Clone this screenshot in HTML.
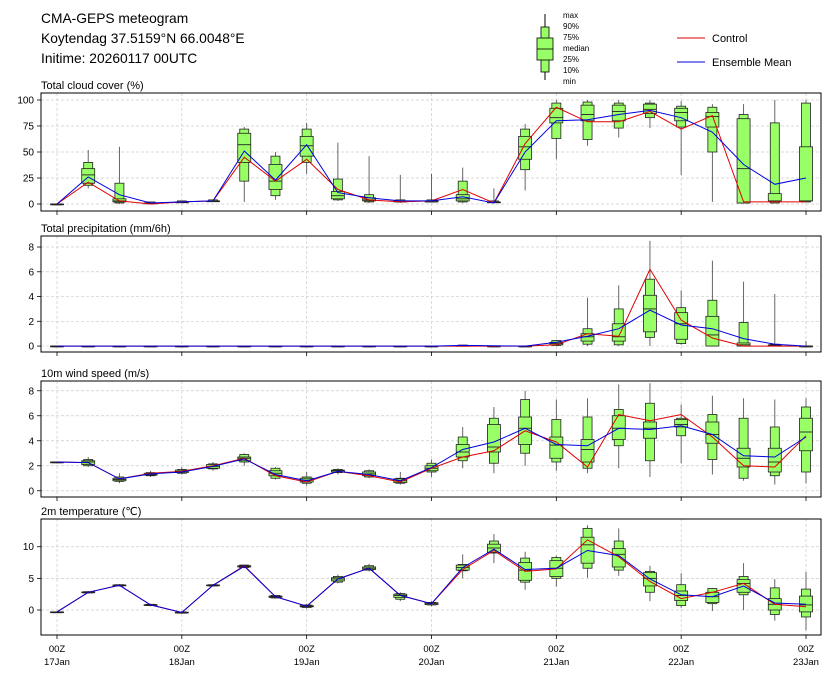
<!DOCTYPE html>
<html><head><meta charset="utf-8">
<style>
body{margin:0;background:#fff;}
svg{display:block;font-family:"Liberation Sans","DejaVu Sans",sans-serif;}
</style></head>
<body>
<svg id="chart" width="831" height="678" viewBox="0 0 831 678">
<g>
<text x="41" y="23" font-size="13.8" fill="#000">CMA-GEPS meteogram</text>
<text x="41" y="43" font-size="13.8" fill="#000">Koytendag 37.5159°N 66.0048°E</text>
<text x="41" y="63" font-size="13.8" fill="#000">Initime: 20260117 00UTC</text>
</g>
<g>
<line x1="545" y1="14" x2="545" y2="80" stroke="#000" stroke-width="1"/>
<rect x="541" y="27" width="8" height="45" fill="#99ff66" stroke="#000" stroke-width="0.8"/>
<rect x="537" y="38" width="16" height="22" fill="#99ff66" stroke="#000" stroke-width="0.8"/>
<line x1="537" y1="49" x2="553" y2="49" stroke="#000" stroke-width="0.8"/>
<g font-size="8" fill="#000">
<text x="563" y="18">max</text><text x="563" y="29">90%</text><text x="563" y="40">75%</text>
<text x="563" y="51">median</text><text x="563" y="62">25%</text><text x="563" y="73">10%</text><text x="563" y="84">min</text>
</g>
</g>
<g>
<line x1="677" y1="38" x2="705" y2="38" stroke="#e00000" stroke-width="1"/>
<text x="712" y="42" font-size="11">Control</text>
<line x1="677" y1="62" x2="705" y2="62" stroke="#0000e0" stroke-width="1"/>
<text x="712" y="66" font-size="11">Ensemble Mean</text>
</g>
<g id="panels"></g>
</svg>
<script>
const steps = [0,6,12,18,24,30,36,42,48,54,60,66,72,78,84,90,96,102,108,114,120,126,132,138,144];
const dayTickHours = [0,24,48,72,96,120,144];
const dayTickLabels = ["17Jan","18Jan","19Jan","20Jan","21Jan","22Jan","23Jan"];

const cloudMin = [0,15,0,1,2,3,2,4,29,3,1,1,2,1,2,13,43,56,64,73,28,2,1,1,2];
const cloudP10 = [0,18,1,1,2,3,22,8,40,4,2,2,2,2,2,33,63,62,73,83,74,50,1,1,2];
const cloudP25 = [0,20,2,1,2,3,40,14,46,5,3,2,2,3,2,43,78,80,80,87,80,74,1,3,3];
const cloudMed = [0,28,3,1,2,3,57,22,56,8,4,3,3,5,2,55,83,86,89,91,88,84,34,3,3];
const cloudP75 = [0,34,5,1,2,3,68,38,65,12,6,3,3,9,2,65,92,95,95,96,92,88,82,10,55];
const cloudP90 = [0,40,20,2,3,4,72,46,72,24,9,4,4,22,3,72,97,98,97,97,94,93,86,78,97];
const cloudMax = [0,52,55,2,3,4,74,50,78,59,46,28,29,35,15,77,100,100,100,100,99,96,96,100,100];
const cloudCtrl = [0,21,3,0,2,3,45,22,43,14,4,2,3,14,1,58,93,79,79,89,72,85,2,2,2];
const cloudMean = [0,26,9,1,2,3,51,23,57,11,6,3,3,7,1,50,80,81,86,90,83,69,38,19,25];

const precMin = [0,0,0,0,0,0,0,0,0,0,0,0,0,0,0,0,0,0,0,0,0.1,0,0,0,0];
const precP10 = [0,0,0,0,0,0,0,0,0,0,0,0,0,0,0,0,0.05,0.15,0.1,0.7,0.2,0,0,0,0];
const precP25 = [0,0,0,0,0,0,0,0,0,0,0,0,0,0,0,0,0.1,0.4,0.4,1.15,0.55,0,0,0,0];
const precMed = [0,0,0,0,0,0,0,0,0,0,0,0,0,0.02,0,0,0.2,0.75,0.75,3.0,1.8,0.9,0.1,0.05,0];
const precP75 = [0,0,0,0,0,0,0,0,0,0,0,0,0,0.05,0,0,0.3,1.0,1.8,4.1,2.7,2.4,0.25,0.1,0];
const precP90 = [0,0,0,0,0,0,0,0,0,0,0,0,0,0.08,0,0,0.45,1.4,3.0,5.4,3.1,3.7,1.9,0.15,0];
const precMax = [0,0,0,0,0,0,0,0,0,0,0,0,0,0.1,0.02,0,0.5,3.9,4.9,8.5,4.5,6.9,5.2,4.2,0.4];
const precCtrl = [0,0,0,0,0,0,0,0,0,0,0,0,0,0,0,0,0.1,1.0,0.8,6.2,2.1,0.65,0,0,0];
const precMean = [0,0,0,0,0,0,0,0,0,0,0,0,0,0.05,0.02,0,0.3,0.8,1.4,2.9,1.7,1.4,0.6,0.15,0];

const windMin = [2.3,1.9,0.6,1.1,1.3,1.6,2.0,0.9,0.4,1.3,1.0,0.5,1.1,1.8,1.4,2.0,1.6,1.4,1.8,1.1,2.2,1.3,0.8,0.5,0.6];
const windP10 = [2.3,2.0,0.75,1.2,1.4,1.75,2.3,1.0,0.6,1.45,1.1,0.6,1.5,2.4,2.2,3.0,2.3,1.8,3.6,2.4,4.4,2.5,1.0,1.2,1.5];
const windP25 = [2.3,2.1,0.8,1.25,1.45,1.8,2.4,1.2,0.7,1.5,1.2,0.65,1.6,2.7,3.1,3.7,2.6,2.3,4.1,4.2,5.1,3.8,1.9,1.5,3.2];
const windMed = [2.3,2.3,0.9,1.3,1.55,1.95,2.6,1.4,0.85,1.6,1.35,0.8,1.8,3.1,3.5,5.0,3.65,3.3,5.0,5.0,5.3,4.5,2.6,2.3,4.7];
const windP75 = [2.3,2.4,1.0,1.4,1.65,2.1,2.7,1.6,1.0,1.65,1.5,0.95,2.0,3.7,5.3,5.9,4.3,4.1,6.0,5.5,5.7,5.5,3.4,3.4,5.8];
const windP90 = [2.3,2.5,1.1,1.45,1.7,2.15,2.9,1.8,1.1,1.7,1.6,1.0,2.2,4.3,5.8,7.3,5.7,5.9,6.5,7.0,5.8,6.1,5.8,5.1,6.7];
const windMax = [2.3,2.7,1.4,1.6,1.9,2.3,3.0,1.9,1.5,1.8,1.7,1.5,2.5,5.1,6.7,8.0,7.3,7.4,8.5,8.6,6.9,7.6,7.4,7.3,7.4];
const windCtrl = [2.3,2.25,0.95,1.4,1.55,2.0,2.6,1.2,0.7,1.55,1.2,0.7,1.8,2.7,3.2,4.8,3.9,1.9,6.1,5.6,6.1,4.3,2.0,1.9,4.4];
const windMean = [2.3,2.25,0.95,1.35,1.5,1.95,2.55,1.3,0.8,1.55,1.3,0.8,1.85,3.3,3.9,5.0,3.7,3.6,5.0,4.9,5.2,4.5,2.8,2.7,4.3];

const tempMin = [-0.3,2.6,3.7,0.6,-0.6,3.7,6.6,1.8,0.2,4.2,6.1,1.4,0.6,5.0,7.4,3.2,3.7,5.1,5.4,1.4,0.3,-0.15,0,-1.7,-3.2];
const tempP10 = [-0.3,2.7,3.8,0.7,-0.5,3.8,6.7,1.9,0.4,4.4,6.3,1.7,0.8,6.2,9.0,4.4,5.0,6.6,6.3,2.8,0.7,1.0,2.4,-0.7,-1.1];
const tempP25 = [-0.3,2.75,3.85,0.75,-0.45,3.85,6.8,2.0,0.5,4.6,6.4,2.0,0.85,6.3,9.1,4.7,5.3,7.4,6.8,3.8,1.5,1.2,2.8,0,-0.3];
const tempMed = [-0.3,2.8,3.9,0.8,-0.4,3.9,6.9,2.1,0.6,4.9,6.6,2.3,1.0,6.7,9.8,6.3,6.6,10.3,8.8,5.0,2.3,2.1,4.2,0.9,0.8];
const tempP75 = [-0.3,2.85,3.95,0.85,-0.35,3.95,7.0,2.2,0.7,5.1,6.8,2.5,1.15,7.1,10.4,7.5,7.8,11.5,9.7,5.9,3.0,2.8,4.8,1.8,2.2];
const tempP90 = [-0.3,2.9,4.0,0.9,-0.3,4.0,7.1,2.3,0.8,5.3,7.0,2.6,1.2,7.2,10.9,8.2,8.3,12.9,10.9,6.1,4.0,3.4,5.3,3.5,3.3];
const tempMax = [-0.3,3.0,4.1,1.0,-0.2,4.1,7.2,2.4,1.0,5.6,7.3,2.8,1.4,8.8,12.0,9.2,8.6,13.4,12.9,7.0,5.8,3.5,7.4,4.9,6.0];
const tempCtrl = [-0.3,2.8,3.9,0.8,-0.4,3.9,7.0,2.1,0.6,4.9,6.6,2.3,1.0,6.4,9.4,6.1,6.5,11.1,8.4,4.5,1.8,2.8,4.2,0.9,0.5];
const tempMean = [-0.3,2.8,3.9,0.8,-0.4,3.9,6.9,2.1,0.6,4.9,6.6,2.3,1.0,6.7,9.6,6.4,6.6,9.4,8.6,4.9,2.4,2.1,3.8,1.1,0.9];

const cloudTicks = [0,25,50,75,100];
const precTicks = [0,2,4,6,8];
const windTicks = [0,2,4,6,8];
const tempTicks = [0,5,10];

const NS = "http://www.w3.org/2000/svg";
const root = document.getElementById("panels");
const X0 = 41, X1 = 821;
function xScale(h){ return 57 + (h/144)*749; }
function mk(tag, attrs, parent){
  const e = document.createElementNS(NS, tag);
  for (const k in attrs) e.setAttribute(k, attrs[k]);
  parent.appendChild(e);
  return e;
}

const panels = [
  {key:"cloud", title:"Total cloud cover (%)", top:93, bot:211, ymin:-6.7, ymax:106.7, ticks:cloudTicks,
   s:[cloudMin,cloudP10,cloudP25,cloudMed,cloudP75,cloudP90,cloudMax], ctrl:cloudCtrl, mean:cloudMean},
  {key:"precip", title:"Total precipitation (mm/6h)", top:236, bot:352, ymin:-0.48, ymax:8.89, ticks:precTicks,
   s:[precMin,precP10,precP25,precMed,precP75,precP90,precMax], ctrl:precCtrl, mean:precMean},
  {key:"wind", title:"10m wind speed (m/s)", top:381, bot:497, ymin:-0.5, ymax:8.78, ticks:windTicks,
   s:[windMin,windP10,windP25,windMed,windP75,windP90,windMax], ctrl:windCtrl, mean:windMean},
  {key:"temp", title:"2m temperature (\u2103)", top:519, bot:635, ymin:-3.95, ymax:14.38, ticks:tempTicks,
   s:[tempMin,tempP10,tempP25,tempMed,tempP75,tempP90,tempMax], ctrl:tempCtrl, mean:tempMean}
];

panels.forEach((p, pi) => {
  const g = mk("g", {}, root);
  
  
  const y = v => p.bot - (v - p.ymin) / (p.ymax - p.ymin) * (p.bot - p.top);
  const t = mk("text", {x:41, y:p.top-4, "font-size":11}, g);
  t.textContent = p.title;
  
  
  p.ticks.forEach(v => {
    const gl = mk("line", {x1:X0, x2:X1, y1:y(v), y2:y(v), stroke:"#cccccc", "stroke-width":0.7, "stroke-dasharray":"3,2"}, g);
    
    
    mk("line", {x1:X0-4, x2:X0, y1:y(v), y2:y(v), stroke:"#000", "stroke-width":0.8}, g);
    const tl = mk("text", {x:X0-7, y:y(v)+3.5, "font-size":10, "text-anchor":"end"}, g);
    tl.textContent = v;
    
    
  });
  dayTickHours.forEach((h, i) => {
    const gl = mk("line", {x1:xScale(h), x2:xScale(h), y1:p.top, y2:p.bot, stroke:"#cccccc", "stroke-width":0.7, "stroke-dasharray":"3,2"}, g);
    
    
    mk("line", {x1:xScale(h), x2:xScale(h), y1:p.bot, y2:p.bot+4, stroke:"#000", "stroke-width":0.8}, g);
    if (pi === 3) {
      const a = mk("text", {x:xScale(h), y:p.bot+17, "font-size":9.5, "text-anchor":"middle"}, g);
      a.textContent = "00Z";
      
      
      const b = mk("text", {x:xScale(h), y:p.bot+30, "font-size":9.5, "text-anchor":"middle"}, g);
      b.textContent = dayTickLabels[i];
      
      
    }
  });
  steps.forEach((h, i) => {
    const cx = xScale(h);
    const [mn,p10,p25,md,p75,p90,mx] = p.s.map(a => a[i]);
    const bg = mk("g", {}, g);
    
    
    mk("line", {x1:cx, x2:cx, y1:y(mx), y2:y(mn), stroke:"#555", "stroke-width":0.9}, bg);
    mk("rect", {x:cx-4.5, y:y(p90), width:9, height:Math.max(0.8, y(p10)-y(p90)), fill:"#99ff66", stroke:"#222", "stroke-width":0.8}, bg);
    mk("rect", {x:cx-6.5, y:y(p75), width:13, height:Math.max(0.8, y(p25)-y(p75)), fill:"#99ff66", stroke:"#222", "stroke-width":0.8}, bg);
    mk("line", {x1:cx-6.5, x2:cx+6.5, y1:y(md), y2:y(md), stroke:"#222", "stroke-width":0.9}, bg);
  });
  const pts = arr => steps.map((h, i) => xScale(h).toFixed(1) + "," + y(arr[i]).toFixed(1)).join(" ");
  const cl = mk("polyline", {points:pts(p.ctrl), fill:"none", stroke:"#e00000", "stroke-width":1}, g);
  
  
  const ml = mk("polyline", {points:pts(p.mean), fill:"none", stroke:"#0000e0", "stroke-width":1}, g);
  
  
  const fr = mk("rect", {x:X0, y:p.top, width:X1-X0, height:p.bot-p.top, fill:"none", stroke:"#000", "stroke-width":1}, g);
  
  
});
</script>
</body></html>
